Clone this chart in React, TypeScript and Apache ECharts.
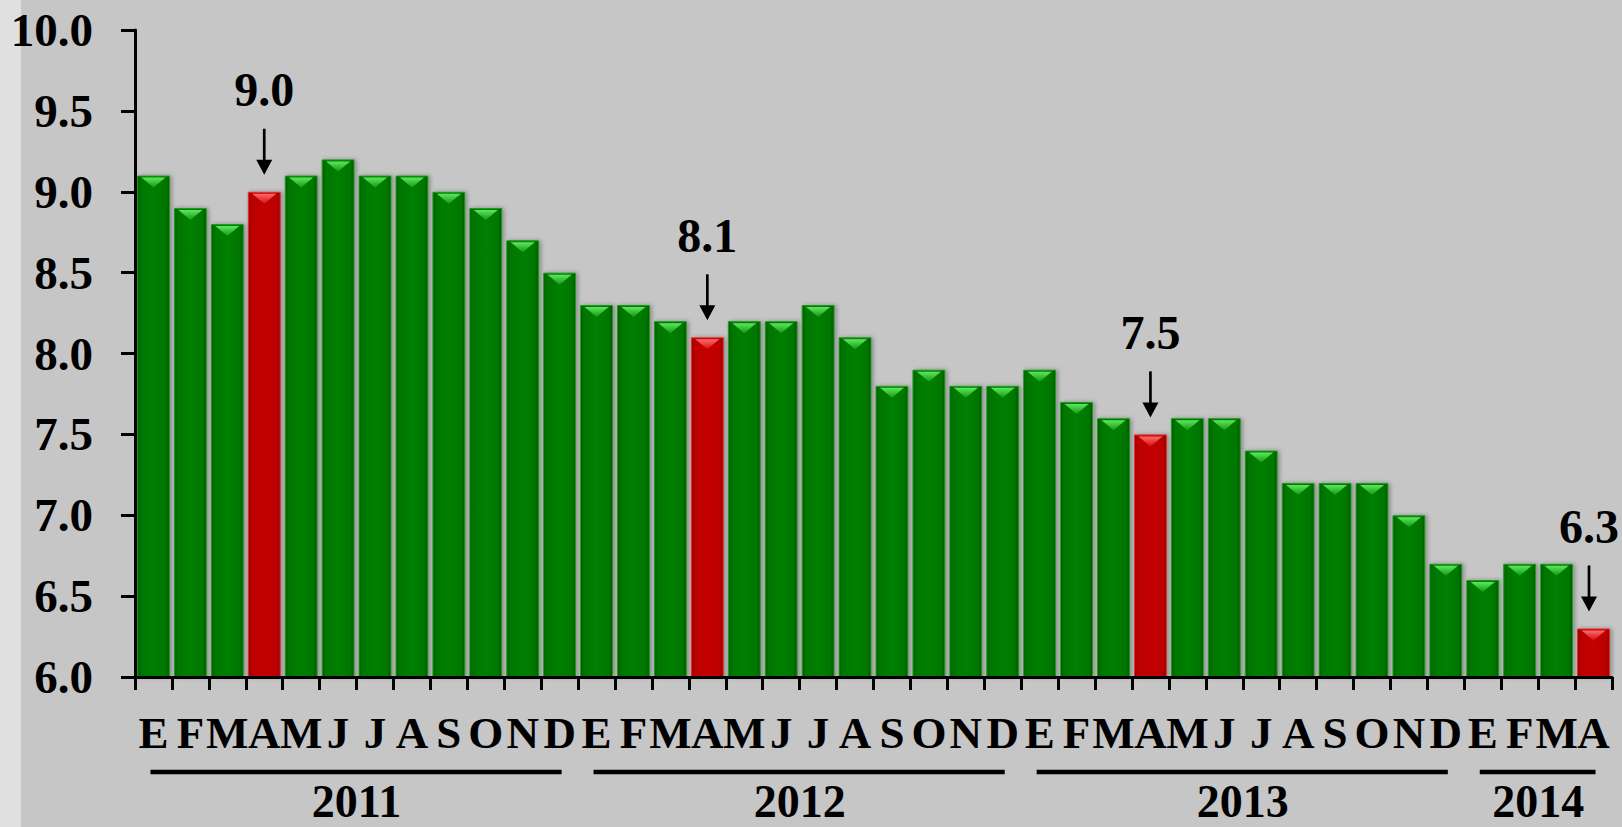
import React, { useEffect, useRef } from "react";
import * as echarts from "echarts";

const months = [
  "E", "F", "M", "A", "M", "J", "J", "A", "S", "O", "N", "D",
  "E", "F", "M", "A", "M", "J", "J", "A", "S", "O", "N", "D",
  "E", "F", "M", "A", "M", "J", "J", "A", "S", "O", "N", "D",
  "E", "F", "M", "A",
];

const values = [
  9.1, 8.9, 8.8, 9.0, 9.1, 9.2, 9.1, 9.1, 9.0, 8.9, 8.7, 8.5,
  8.3, 8.3, 8.2, 8.1, 8.2, 8.2, 8.3, 8.1, 7.8, 7.9, 7.8, 7.8,
  7.9, 7.7, 7.6, 7.5, 7.6, 7.6, 7.4, 7.2, 7.2, 7.2, 7.0, 6.7,
  6.6, 6.7, 6.7, 6.3,
];

const highlightIdx = [3, 15, 27, 39];

const years = ["2011", "2012", "2013", "2014"];
const yearCounts = [12, 12, 12, 4];

const yMin = 6;
const yMax = 10;
const yStep = 0.5;

const W = 1622;
const H = 827;
const FONT = "'Liberation Serif', 'Times New Roman', serif";

const greenFill = new echarts.graphic.LinearGradient(0, 0, 1, 0, [
  { offset: 0, color: "#005f00" },
  { offset: 0.12, color: "#007600" },
  { offset: 0.5, color: "#007f00" },
  { offset: 0.88, color: "#007600" },
  { offset: 1, color: "#005a00" },
]);
const redFill = new echarts.graphic.LinearGradient(0, 0, 1, 0, [
  { offset: 0, color: "#9e0000" },
  { offset: 0.12, color: "#bb0000" },
  { offset: 0.5, color: "#c40000" },
  { offset: 0.88, color: "#bb0000" },
  { offset: 1, color: "#980000" },
]);
const greenCap = new echarts.graphic.LinearGradient(0, 0, 0, 1, [
  { offset: 0, color: "#5ee85e" },
  { offset: 1, color: "#129a12" },
]);
const redCap = new echarts.graphic.LinearGradient(0, 0, 0, 1, [
  { offset: 0, color: "#ff6a6a" },
  { offset: 1, color: "#d41010" },
]);

export default function App() {
  const ref = useRef<HTMLDivElement>(null);

  useEffect(() => {
    const chart = echarts.init(ref.current!, null, { renderer: "svg" });
    const isHi = (i: number) => highlightIdx.indexOf(i) >= 0;

    chart.setOption({
      animation: false,
      backgroundColor: "#c6c6c6",
      grid: { left: 135, right: 10, top: 30, bottom: 150, containLabel: false },
      xAxis: {
        type: "category",
        data: months,
        z: 10,
        axisLine: { show: true, lineStyle: { color: "#000", width: 3 } },
        axisTick: { show: true, interval: 0, length: 13, lineStyle: { color: "#000", width: 3 } },
        axisLabel: {
          interval: 0,
          margin: 33,
          color: "#000",
          fontFamily: FONT,
          fontWeight: "bold",
          fontSize: 45,
        },
        splitLine: { show: false },
      },
      yAxis: {
        type: "value",
        min: yMin,
        max: yMax,
        interval: yStep,
        z: 10,
        axisLine: { show: true, lineStyle: { color: "#000", width: 3 } },
        axisTick: { show: true, length: 14, lineStyle: { color: "#000", width: 3 } },
        axisLabel: {
          margin: 42,
          color: "#000",
          fontFamily: FONT,
          fontWeight: "bold",
          fontSize: 47,
          formatter: (v: number) => v.toFixed(1),
        },
        splitLine: { show: false },
      },
      series: [
        {
          type: "bar",
          barCategoryGap: "11%",
          barGap: "-100%",
          data: values.map((v, i) => ({
            value: v,
            itemStyle: {
              color: isHi(i) ? redFill : greenFill,
              borderColor: isHi(i) ? "#e03030" : "#1f9a1f",
              borderWidth: 1,
              shadowColor: "rgba(0,0,0,0.3)",
              shadowBlur: 4,
              shadowOffsetX: 2,
            },
          })),
        },
        {
          type: "pictorialBar",
          barCategoryGap: "11%",
          barGap: "-100%",
          symbol: "path://M0,0 L24,0 L12,10 Z",
          symbolSize: [24, 10],
          symbolPosition: "end",
          symbolOffset: [0, 2],
          z: 5,
          data: values.map((v, i) => ({
            value: v,
            itemStyle: { color: isHi(i) ? redCap : greenCap },
          })),
        },
      ],
    });

    const g: any[] = [];
    g.push({
      type: "rect",
      shape: { x: 0, y: 0, width: 21, height: H },
      style: { fill: "#e0e0e0" },
      z: -10,
      silent: true,
    });

    const px = (i: number, v: number) =>
      chart.convertToPixel({ xAxisIndex: 0, yAxisIndex: 0 }, [i, v]) as number[];
    const band = px(1, yMin)[0] - px(0, yMin)[0];

    // annotations
    highlightIdx.forEach((i) => {
      const [bx, by] = px(i, values[i]);
      const x = Math.min(bx, W - 33);
      const tip = by - 17;
      const top = by - 63;
      g.push({
        type: "text",
        x,
        y: by - 102,
        style: {
          text: values[i].toFixed(1),
          fill: "#000",
          font: `bold 48px ${FONT}`,
          align: "center",
          verticalAlign: "middle",
        },
        z: 20,
      });
      g.push({
        type: "line",
        shape: { x1: x, y1: top, x2: x, y2: tip - 12 },
        style: { stroke: "#000", lineWidth: 2.7 },
        z: 20,
      });
      g.push({
        type: "polygon",
        shape: { points: [[x - 8, tip - 15], [x + 8, tip - 15], [x, tip]] },
        style: { fill: "#000" },
        z: 20,
      });
    });

    // year groups
    let start = 0;
    years.forEach((yr, k) => {
      const end = start + yearCounts[k] - 1;
      const x0 = px(start, yMin)[0];
      const x1 = px(end, yMin)[0];
      const lineY = 772;
      g.push({
        type: "line",
        shape: { x1: x0 - 3, y1: lineY, x2: x1 + 2, y2: lineY },
        style: { stroke: "#000", lineWidth: 4.5 },
        z: 20,
      });
      const cx = (x0 - band / 2 + x1 + band / 2) / 2;
      g.push({
        type: "text",
        x: cx,
        y: 801.5,
        style: {
          text: yr,
          fill: "#000",
          font: `bold 46px ${FONT}`,
          align: "center",
          verticalAlign: "middle",
        },
        z: 20,
      });
      start = end + 1;
    });

    chart.setOption({ graphic: g });

    return () => chart.dispose();
  }, []);

  return (
    <div
      ref={ref}
      style={{ position: "fixed", left: 0, top: 0, width: W, height: H }}
    />
  );
}
